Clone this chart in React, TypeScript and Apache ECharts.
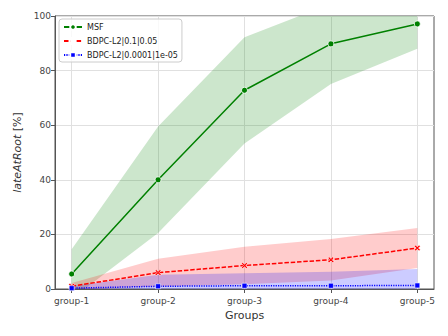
import React, { useEffect, useRef } from "react";
import * as echarts from "echarts";

const groups = ["group-1", "group-2", "group-3", "group-4", "group-5"];

const msfMean = [5.5, 40.0, 72.8, 89.8, 97.1];
const msfLow = [-3.6, 20.5, 53.3, 75.1, 88.0];
const msfHigh = [14.6, 59.5, 92.2, 104.5, 106.2];

const redMean = [1.0, 6.0, 8.6, 10.7, 15.0];
const redLow = [-0.2, 0.9, 1.7, 3.1, 7.7];
const redHigh = [2.2, 11.1, 15.5, 18.3, 22.3];

const blueMean = [0.3, 1.0, 1.2, 1.2, 1.3];
const blueLow = [-0.4, -3.2, -3.4, -3.9, -4.7];
const blueHigh = [1.0, 5.2, 5.8, 6.3, 7.3];

const names = ["MSF", "BDPC-L2|0.1|0.05", "BDPC-L2|0.0001|1e-05"];

const FONT = "DejaVu Sans";
const X_MARK = "path://M0,2 L2,0 L5,3 L8,0 L10,2 L7,5 L10,8 L8,10 L5,7 L2,10 L0,8 L3,5 Z";

const pts = (arr: number[]) => arr.map((v, i) => [i, v]);

function band(id: string, low: number[], high: number[], color: string) {
  return {
    type: "custom",
    name: id + "-band",
    clip: true,
    silent: true,
    z: 1,
    data: [[0, 0]],
    renderItem: (params: any, api: any) => {
      const upper = high.map((v, i) => api.coord([i, v]));
      const lower = low.map((v, i) => api.coord([i, v])).reverse();
      return {
        type: "polygon",
        shape: { points: upper.concat(lower) },
        style: { fill: color, opacity: 0.2 },
      };
    },
  };
}

export default function App() {
  const ref = useRef<HTMLDivElement>(null);
  useEffect(() => {
    const chart = echarts.init(ref.current!, null, { renderer: "svg" });
    chart.setOption({
      animation: false,
      textStyle: { fontFamily: FONT },
      grid: {
        left: 55,
        right: 14,
        top: 16,
        bottom: 47,
        show: true,
        borderColor: "#555",
        borderWidth: 1,
        backgroundColor: "transparent",
      },
      legend: {
        data: [
          { name: names[0], lineStyle: { type: "solid" } },
          { name: names[1] },
          { name: names[2] },
        ],
        orient: "vertical",
        left: 59,
        top: 19,
        itemWidth: 18,
        itemHeight: 7,
        itemGap: 6,
        padding: [4, 4, 3, 4],
        borderColor: "#ccc",
        borderWidth: 1,
        borderRadius: 3,
        backgroundColor: "rgba(255,255,255,0.8)",
        textStyle: { fontSize: 8, color: "#222", fontFamily: FONT },
      },
      xAxis: {
        type: "value",
        min: -0.193,
        max: 4.193,
        name: "Groups",
        nameLocation: "middle",
        nameGap: 20,
        nameTextStyle: { fontSize: 11, color: "#333", fontFamily: FONT },
        axisLine: { show: true, onZero: false, lineStyle: { color: "#555", width: 1 } },
        axisTick: {
          show: true,
          length: 4,
          lineStyle: { color: "#555" },
          customValues: [0, 1, 2, 3, 4],
        },
        axisLabel: {
          customValues: [0, 1, 2, 3, 4],
          formatter: (v: number) => groups[Math.round(v)] ?? "",
          fontSize: 9,
          color: "#444",
          margin: 7,
        },
        splitLine: { show: true, lineStyle: { color: "#e0e0e0", width: 1 } },
      },
      yAxis: {
        type: "value",
        min: 0,
        max: 100,
        interval: 20,
        name: "{i|lateAtRoot} {n|[%]}",
        nameLocation: "middle",
        nameGap: 28,
        nameRotate: 90,
        nameTextStyle: {
          fontSize: 11,
          color: "#333",
          rich: {
            i: { fontSize: 11, fontStyle: "italic", color: "#333", fontFamily: FONT },
            n: { fontSize: 11, color: "#333", fontFamily: FONT },
          },
        },
        axisLine: { show: true, onZero: false, lineStyle: { color: "#555", width: 1 } },
        axisTick: { show: true, length: 4, lineStyle: { color: "#555" } },
        axisLabel: {
          fontSize: 9,
          color: "#444",
          margin: 4,
        },
        splitLine: { show: true, lineStyle: { color: "#e0e0e0", width: 1 } },
      },
      series: [
        band("msf", msfLow, msfHigh, "#008000"),
        band("red", redLow, redHigh, "#ff0000"),
        band("blue", blueLow, blueHigh, "#0000ff"),
        {
          type: "line",
          name: names[0],
          data: pts(msfMean),
          symbol: "circle",
          symbolSize: 6,
          itemStyle: { color: "#008000", borderColor: "#fff", borderWidth: 0.8 },
          lineStyle: { color: "#008000", width: 1.5, type: "solid" },
          z: 5,
        },
        {
          type: "line",
          name: names[1],
          data: pts(redMean),
          symbol: X_MARK,
          symbolSize: 6,
          itemStyle: { color: "#ff0000", borderColor: "#fff", borderWidth: 0.6 },
          lineStyle: { color: "#ff0000", width: 1.5, type: [4.5, 1.8] },
          z: 5,
        },
        {
          type: "line",
          name: names[2],
          data: pts(blueMean),
          symbol: "rect",
          symbolSize: 5,
          itemStyle: { color: "#0000ff", borderColor: "#fff", borderWidth: 0.6 },
          lineStyle: { color: "#0000ff", width: 1.5, type: [1.2, 1.2] },
          z: 5,
        },
      ],
    });
    return () => chart.dispose();
  }, []);
  return <div ref={ref} style={{ width: 448, height: 336, position: "absolute", left: 0, top: 0 }} />;
}
